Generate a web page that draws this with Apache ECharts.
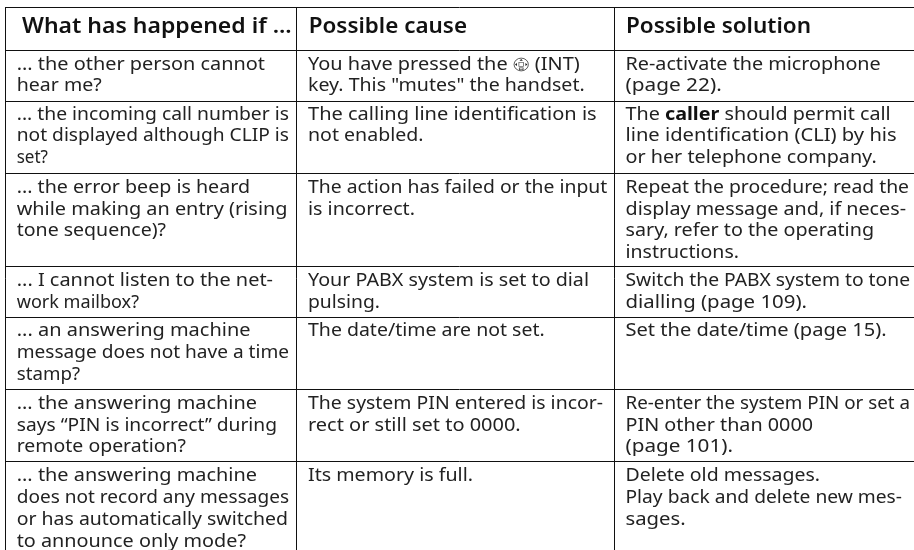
<!DOCTYPE html>
<html><head><meta charset="utf-8">
<style>html,body{margin:0;padding:0;background:#fff}#c{width:914px;height:550px}</style>
<script src="https://cdn.jsdelivr.net/npm/echarts@6/dist/echarts.min.js"></script>
</head><body><div id="c"></div>
<script>
const headers = ['What has happened if ...', 'Possible cause', 'Possible solution'];
const conditions = [
 ['... the other person cannot','hear me?'],
 ['... the incoming call number is','not displayed although CLIP is','set?'],
 ['... the error beep is heard','while making an entry (rising','tone sequence)?'],
 ['... I cannot listen to the net-','work mailbox?'],
 ['... an answering machine','message does not have a time','stamp?'],
 ['... the answering machine','says “PIN is incorrect” during','remote operation?'],
 ['... the answering machine','does not record any messages','or has automatically switched','to announce only mode?']
];
const causes = [
 ['You have pressed the {icon|} (INT)','key. This "mutes" the handset.'],
 ['The calling line identification is','not enabled.'],
 ['The action has failed or the input','is incorrect.'],
 ['Your PABX system is set to dial','pulsing.'],
 ['The date/time are not set.'],
 ['The system PIN entered is incor-','rect or still set to 0000.'],
 ['Its memory is full.']
];
const solutions = [
 ['Re-activate the microphone','(page 22).'],
 ['The {b|caller} should permit call','line identification (CLI) by his','or her telephone company.'],
 ['Repeat the procedure; read the','display message and, if neces-','sary, refer to the operating','instructions.'],
 ['Switch the PABX system to tone','dialling (page 109).'],
 ['Set the date/time (page 15).'],
 ['Re-enter the system PIN or set a','PIN other than 0000','(page 101).'],
 ['Delete old messages.','Play back and delete new mes-','sages.']
];

// layout
const W = 914, H = 550;
const colLines = [5.5, 296.5, 614.5];
const rowLines = [7.5, 50.5, 101.5, 173.5, 266.5, 317.5, 389.5, 461.5];
const colText = [16.7, 308, 625.5];
const headX = [22, 308.7, 626];
const headEnds = [291.7, 467, 811];
const rowText = [55.5, 105.7, 178.9, 272.2, 322.2, 395.2, 466.5];
const rowPitch = [21.7, 21.6, 21.6, 21.7, 21.7, 21.5, 22.3];
// right edge of each text line, used to fit its width
const condEnds = [[265,101.7],[289,289,48],[250,287.5,166],[273,139],[250.5,289,80],[257,277,186],[257,289,288,246]];
const causeEnds = [[579.7,584.7],[596.7,423.5],[607.3,415],[589,380],[544.7],[603,520.7],[473]];
const solEnds = [[880.7,721.7],[890.7,896.7,876.7],[909,906,874,739],[910,807],[886.7],[910,813,733],[820,902,685.7]];
const FONT = '"Noto Sans"';
const SIZE = 17.8;
const HEAD = '600 21.5px ' + FONT;
const ICON = 15;

const ctx = document.createElement('canvas').getContext('2d');
function measure(line, font, boldFont) {
  let w = 0, last = 0, m;
  const re = /\{(\w+)\|([^}]*)\}/g;
  const plain = s => { ctx.font = font; return ctx.measureText(s).width; };
  while ((m = re.exec(line))) {
    w += plain(line.slice(last, m.index));
    if (m[1] === 'icon') w += ICON;
    else { ctx.font = boldFont; w += ctx.measureText(m[2]).width; }
    last = re.lastIndex;
  }
  return w + plain(line.slice(last));
}

const icon = 'data:image/svg+xml,' + encodeURIComponent(
 '<svg xmlns="http://www.w3.org/2000/svg" width="16" height="16" viewBox="0 0 16 16">' +
 '<circle cx="8" cy="8" r="6.8" fill="none" stroke="#333" stroke-width=".8"/>' +
 '<rect x="5.8" y="5.8" width="4.4" height="4.4" fill="none" stroke="#555" stroke-width=".7"/>' +
 '<path d="M8 2L9.6 4H6.4zM2 8L4 6.4V9.6zM14 8L12 6.4V9.6z" fill="#222"/>' +
 '<rect x="6.2" y="11.6" width="3.6" height="2" fill="none" stroke="#333" stroke-width=".7"/></svg>');

const lineSegs = [];
rowLines.forEach(y => lineSegs.push([colLines[0] - 0.5, y, W, y]));
colLines.forEach(x => lineSegs.push([x, rowLines[0], x, H]));

const cells = [];
headers.forEach((t, c) => cells.push({value:[headX[c], 15.5], lines:[t], head:true, ends:[headEnds[c]]}));
[[conditions,condEnds], [causes,causeEnds], [solutions,solEnds]].forEach(([col,ends], c) => col.forEach((ls, r) =>
  cells.push({value:[colText[c], rowText[r]], lines:ls, pitch:rowPitch[r], ends:ends[r]})));

const chart = echarts.init(document.getElementById('c'), null, {renderer:'canvas'});
chart.setOption({
 animation:false,
 backgroundColor:'#fff',
 grid:{left:0,right:0,top:0,bottom:0},
 xAxis:{type:'value',min:0,max:W,show:false},
 yAxis:{type:'value',min:0,max:H,inverse:true,show:false},
 series:[
  {type:'custom',coordinateSystem:'cartesian2d',silent:true,clip:false,
   encode:{x:0,y:1},data:lineSegs,
   renderItem(p,api){
    const a=api.coord([api.value(0),api.value(1)]),b=api.coord([api.value(2),api.value(3)]);
    return {type:'line',shape:{x1:a[0],y1:a[1],x2:b[0],y2:b[1]},style:{stroke:'#111',lineWidth:1}};
   }},
  {type:'custom',coordinateSystem:'cartesian2d',silent:true,clip:false,
   encode:{x:0,y:1},data:cells,
   renderItem(p,api){
    const cell=cells[p.dataIndex];
    const a=api.coord([api.value(0),api.value(1)]);
    const fontS=SIZE+'px '+FONT, boldS='bold '+SIZE+'px '+FONT;
    if(cell.head){
      const sx=(cell.ends[0]-a[0])/measure(cell.lines[0],HEAD,HEAD);
      return {type:'text',x:a[0],y:a[1],scaleX:sx,style:{text:cell.lines[0],x:0,y:0,fill:'#111',
        font:HEAD,verticalAlign:'top'}};
    }
    return {type:'group',children:cell.lines.map((l,i)=>({type:'text',x:a[0],y:a[1]+i*cell.pitch,
      scaleX:(cell.ends[i]-a[0])/measure(l,fontS,boldS),
      style:{text:l,x:0,y:0,fill:'#222',font:fontS,verticalAlign:'top',
       rich:{b:{font:boldS,fill:'#111'},
             icon:{width:ICON,height:ICON,backgroundColor:{image:icon}}}}}))};
   }}
 ]
});
</script></body></html>
